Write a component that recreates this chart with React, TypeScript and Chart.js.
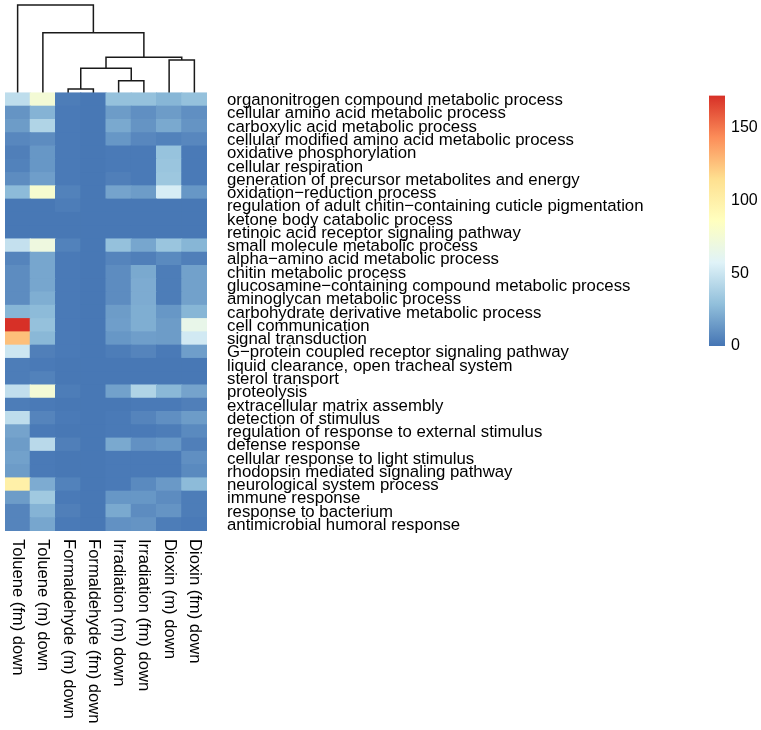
import React, { useEffect, useRef } from "react";
import { Chart, registerables } from "chart.js";

Chart.register(...registerables);

// ---- categories ----
const columns = [
  "Toluene (fm) down",
  "Toluene (m) down",
  "Formaldehyde (m) down",
  "Formaldehyde (fm) down",
  "Irradiation (m) down",
  "Irradiation (fm) down",
  "Dioxin (m) down",
  "Dioxin (fm) down",
];

const rowLabels = [
  "organonitrogen compound metabolic process",
  "cellular amino acid metabolic process",
  "carboxylic acid metabolic process",
  "cellular modified amino acid metabolic process",
  "oxidative phosphorylation",
  "cellular respiration",
  "generation of precursor metabolites and energy",
  "oxidation\u2212reduction process",
  "regulation of adult chitin\u2212containing cuticle pigmentation",
  "ketone body catabolic process",
  "retinoic acid receptor signaling pathway",
  "small molecule metabolic process",
  "alpha\u2212amino acid metabolic process",
  "chitin metabolic process",
  "glucosamine\u2212containing compound metabolic process",
  "aminoglycan metabolic process",
  "carbohydrate derivative metabolic process",
  "cell communication",
  "signal transduction",
  "G\u2212protein coupled receptor signaling pathway",
  "liquid clearance, open tracheal system",
  "sterol transport",
  "proteolysis",
  "extracellular matrix assembly",
  "detection of stimulus",
  "regulation of response to external stimulus",
  "defense response",
  "cellular response to light stimulus",
  "rhodopsin mediated signaling pathway",
  "neurological system process",
  "immune response",
  "response to bacterium",
  "antimicrobial humoral response",
];

// ---- series values (one per column, rows top to bottom) ----
const tolueneFm = [45, 12, 15, 7, 4, 5, 9, 27, 1, 1, 1, 47, 6, 9, 9, 9, 25, 172, 126, 50, 3, 3, 46, 3, 45, 18, 15, 17, 15, 100, 15, 6, 6];
const tolueneM = [75, 24, 40, 9, 13, 13, 16, 78, 1, 1, 1, 70, 19, 19, 19, 22, 27, 30, 26, 4, 2, 5, 75, 2, 6, 2, 43, 2, 2, 21, 34, 24, 19];
const formaldehydeM = [3, 2, 2, 2, 2, 2, 2, 5, 3, 1, 1, 5, 2, 2, 2, 2, 2, 2, 2, 2, 1, 1, 3, 1, 2, 1, 4, 1, 1, 5, 2, 4, 2];
const formaldehydeFm = [1, 1, 1, 1, 1, 1, 1, 1, 1, 1, 1, 1, 1, 1, 1, 1, 1, 1, 1, 1, 1, 1, 1, 1, 1, 1, 1, 1, 1, 1, 1, 1, 1];
const irradiationM = [30, 15, 20, 13, 2, 2, 4, 18, 1, 1, 1, 30, 6, 9, 9, 9, 15, 16, 13, 3, 1, 1, 17, 1, 2, 2, 20, 2, 2, 2, 13, 20, 11];
const irradiationFm = [30, 10, 12, 7, 2, 2, 2, 15, 1, 1, 1, 19, 4, 20, 21, 21, 22, 22, 16, 6, 1, 1, 40, 2, 6, 2, 11, 2, 2, 8, 13, 9, 12];
const dioxinM = [25, 15, 20, 5, 31, 32, 33, 54, 1, 1, 1, 32, 8, 3, 3, 3, 13, 15, 15, 2, 1, 1, 26, 2, 10, 3, 13, 2, 2, 14, 9, 12, 3];
const dioxinFm = [30, 10, 12, 7, 2, 2, 2, 13, 1, 1, 1, 25, 4, 17, 17, 17, 25, 65, 52, 16, 1, 1, 18, 4, 15, 8, 4, 10, 8, 27, 3, 3, 2];

const seriesValues = [tolueneFm, tolueneM, formaldehydeM, formaldehydeFm, irradiationM, irradiationFm, dioxinM, dioxinFm];

// ---- colour scale ----
const paletteStops = ["#4575B4", "#91BFDB", "#E0F3F8", "#FFFFBF", "#FEE090", "#FC8D59", "#D73027"];
const colorMin = 0;
const colorMax = 172;
const legendTicks = [0, 50, 100, 150];

// ---- column dendrogram (hclust style merges; negative = leaf) ----
const mergeA = [-3, -5, 1, -7, 3, -2, -1];
const mergeB = [-4, -6, 2, -8, 4, 5, 6];
const mergeHeight = [0.3, 0.92, 1.86, 2.48, 2.68, 4.54, 6.62];
const dendroPanel = 7;

const FONT = '"Liberation Sans", Arial, Helvetica, sans-serif';

function hexToRgb(h: string) {
  return [parseInt(h.slice(1, 3), 16), parseInt(h.slice(3, 5), 16), parseInt(h.slice(5, 7), 16)];
}
const stopRgb = paletteStops.map(hexToRgb);

function valueColor(v: number) {
  let f = (v - colorMin) / (colorMax - colorMin);
  f = Math.max(0, Math.min(1, f));
  const p = f * (stopRgb.length - 1);
  const i = Math.min(Math.floor(p), stopRgb.length - 2);
  const t = p - i;
  const a = stopRgb[i];
  const b = stopRgb[i + 1];
  const c = a.map((av, k) => Math.round(av + (b[k] - av) * t));
  return `rgb(${c[0]},${c[1]},${c[2]})`;
}

const labelPlugin = {
  id: "heatLabels",
  afterDatasetsDraw(chart: any) {
    const { ctx, chartArea, scales } = chart;
    const n = rowLabels.length;
    ctx.save();
    ctx.fillStyle = "#000";
    ctx.textBaseline = "middle";
    ctx.textAlign = "left";
    ctx.font = `16.8px ${FONT}`;
    rowLabels.forEach((lab, r) => {
      ctx.fillText(lab, chartArea.right + 20, scales.y.getPixelForValue(n - r - 0.5) + 1);
    });
    ctx.font = `16.6px ${FONT}`;
    columns.forEach((lab, c) => {
      ctx.save();
      ctx.translate(scales.x.getPixelForValue(c), chartArea.bottom + 8);
      ctx.rotate(Math.PI / 2);
      ctx.fillText(lab, 0, 0);
      ctx.restore();
    });
    ctx.restore();
  },
};

function HeatmapChart() {
  const ref = useRef<HTMLCanvasElement>(null);
  useEffect(() => {
    const n = rowLabels.length;
    const datasets: any[] = [];
    for (let r = n - 1; r >= 0; r--) {
      datasets.push({
        type: "bar",
        label: rowLabels[r],
        data: columns.map((_, c) => ({ x: c, y: 1 })),
        backgroundColor: seriesValues.map((s) => valueColor(s[r])),
        borderWidth: 0,
        barPercentage: 1,
        categoryPercentage: 1,
        inflateAmount: 0.5,
        xAxisID: "x",
        yAxisID: "y",
        stack: "heat",
      });
    }
    const nodeX: number[] = [];
    const nodeH: number[] = [];
    const pos = (k: number) => (k < 0 ? { x: -k - 1, h: 0 } : { x: nodeX[k - 1], h: nodeH[k - 1] });
    mergeA.forEach((a, i) => {
      const pa = pos(a);
      const pb = pos(mergeB[i]);
      const h = mergeHeight[i];
      nodeX.push((pa.x + pb.x) / 2);
      nodeH.push(h);
      datasets.push({
        type: "line",
        label: "merge" + i,
        data: [
          { x: pa.x, y: n + pa.h },
          { x: pa.x, y: n + h },
          { x: pb.x, y: n + h },
          { x: pb.x, y: n + pb.h },
        ],
        xAxisID: "x",
        yAxisID: "yd",
        borderColor: "#1a1a1a",
        borderWidth: 1.5,
        borderJoinStyle: "miter",
        pointRadius: 0,
        fill: false,
        tension: 0,
        clip: false,
      });
    });
    const chart = new Chart(ref.current as HTMLCanvasElement, {
      type: "bar",
      data: { datasets },
      options: {
        responsive: false,
        animation: false,
        devicePixelRatio: 1,
        layout: { padding: { left: 5, right: 554, top: 0, bottom: 199 } },
        plugins: { legend: { display: false }, tooltip: { enabled: false } },
        scales: {
          x: { type: "linear", min: -0.5, max: columns.length - 0.5, offset: false, display: false, stacked: true },
          y: { type: "linear", min: 0, max: n + dendroPanel, display: false, stacked: true },
          yd: { type: "linear", min: 0, max: n + dendroPanel, display: false },
        },
      } as any,
      plugins: [labelPlugin],
    });
    return () => chart.destroy();
  }, []);
  return (
    <canvas
      ref={ref}
      width={761}
      height={730}
      style={{ position: "absolute", left: 0, top: 0, width: 761, height: 730 }}
    />
  );
}

function ColorLegend() {
  const ref = useRef<HTMLCanvasElement>(null);
  useEffect(() => {
    const chart = new Chart(ref.current as HTMLCanvasElement, {
      type: "bar",
      data: {
        labels: ["value"],
        datasets: [
          {
            data: [colorMax],
            borderWidth: 0,
            barPercentage: 1,
            categoryPercentage: 1,
            backgroundColor: (c: any) => {
              const ch = c.chart;
              const ys = ch.scales && ch.scales.y;
              if (!ch.chartArea || !ys) return paletteStops[0];
              const y0 = ys.getPixelForValue(colorMin);
              const y1 = ys.getPixelForValue(colorMax);
              const g = ch.ctx.createLinearGradient(0, y0, 0, y1);
              paletteStops.forEach((col, i) => g.addColorStop(i / (paletteStops.length - 1), col));
              return g;
            },
          },
        ],
      },
      options: {
        responsive: false,
        animation: false,
        devicePixelRatio: 1,
        layout: { padding: { left: 19, right: 0, top: 14, bottom: 24 } },
        plugins: { legend: { display: false }, tooltip: { enabled: false } },
        scales: {
          x: { display: false },
          y: {
            position: "right",
            min: colorMin,
            max: colorMax,
            border: { display: false },
            grid: { display: false, drawTicks: false },
            afterBuildTicks: (s: any) => {
              s.ticks = legendTicks.map((v) => ({ value: v }));
            },
            afterFit: (s: any) => {
              s.width = 36;
            },
            ticks: { padding: 6, color: "#000", font: { family: FONT, size: 16 } },
          },
        },
      } as any,
    });
    return () => chart.destroy();
  }, []);
  return (
    <canvas
      ref={ref}
      width={71}
      height={290}
      style={{ position: "absolute", left: 690, top: 80, width: 71, height: 290 }}
    />
  );
}

export default function App() {
  return (
    <div style={{ position: "absolute", left: 0, top: 0, width: 761, height: 730, background: "#fff" }}>
      <HeatmapChart />
      <ColorLegend />
    </div>
  );
}
